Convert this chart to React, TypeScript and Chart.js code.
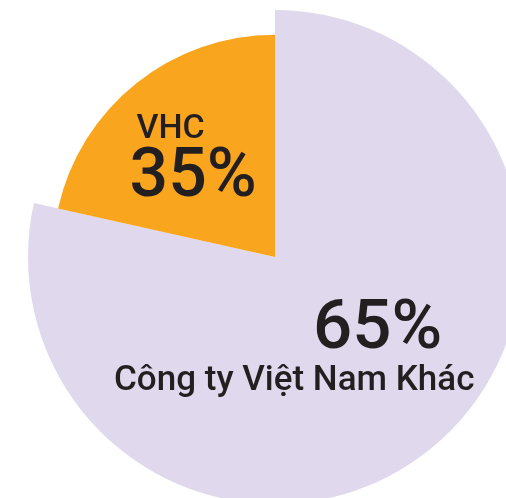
import React, { useEffect, useRef } from "react";
import { Chart, registerables } from "chart.js";

Chart.register(...registerables);

// Slice names and the shares printed on the graphic
const categories = ["Công ty Việt Nam Khác", "VHC"];
const shareLabels = ["65%", "35%"];
// Angular size of each slice as drawn in the graphic (percent of the full circle)
const sliceValues = [78.5, 21.5];

const colors = ["#E0D8EC", "#F9A61E"];
const TEXT = "#231F20";
const FONT = "Roboto, 'Noto Sans', sans-serif";

const shapePlugin = {
  id: "shape",
  beforeDatasetsDraw(chart: any) {
    const meta = chart.getDatasetMeta(0);
    const arcs = meta.data;
    if (arcs.length > 1) {
      const full = arcs[0].outerRadius;
      arcs[1].outerRadius = full * 0.9;
    }
  },
  afterDatasetsDraw(chart: any) {
    const { ctx } = chart;
    const meta = chart.getDatasetMeta(0);
    const big = meta.data[0];
    const small = meta.data[1];
    ctx.save();
    ctx.fillStyle = TEXT;
    ctx.textBaseline = "alphabetic";
    // big slice label
    {
      const p = big.tooltipPosition();
      ctx.textAlign = "right";
      ctx.font = `500 69px ${FONT}`;
      ctx.fillText(shareLabels[0], p.x + 90, p.y - 5);
      ctx.textAlign = "center";
      ctx.font = `500 35px ${FONT}`;
      ctx.fillText(categories[0], p.x - 58, p.y + 37);
    }
    // small slice label
    {
      const p = small.tooltipPosition();
      ctx.textAlign = "left";
      ctx.font = `500 34px ${FONT}`;
      ctx.fillText(categories[1], p.x - 69, p.y - 32);
      ctx.font = `500 68px ${FONT}`;
      ctx.fillText(shareLabels[1], p.x - 76, p.y + 26);
    }
    ctx.restore();
  },
};

export default function App() {
  const ref = useRef<HTMLCanvasElement | null>(null);
  useEffect(() => {
    if (!ref.current) return;
    const chart = new Chart(ref.current, {
      type: "pie",
      data: {
        labels: categories,
        datasets: [
          {
            data: sliceValues,
            backgroundColor: colors,
            borderWidth: 0,
            hoverOffset: 0,
            offset: 0,
          },
        ],
      },
      options: {
        responsive: false,
        animation: false,
        layout: { padding: { left: 28, right: 28, top: 10, bottom: 10 } },
        plugins: { legend: { display: false }, tooltip: { enabled: false } },
      },
      plugins: [shapePlugin],
    });
    return () => chart.destroy();
  }, []);
  return (
    <div
      style={{
        position: "fixed",
        left: 0,
        top: 0,
        width: 506,
        height: 498,
        overflow: "hidden",
        background: "#fff",
      }}
    >
      <canvas ref={ref} width={550} height={514} style={{ display: "block" }} />
    </div>
  );
}
